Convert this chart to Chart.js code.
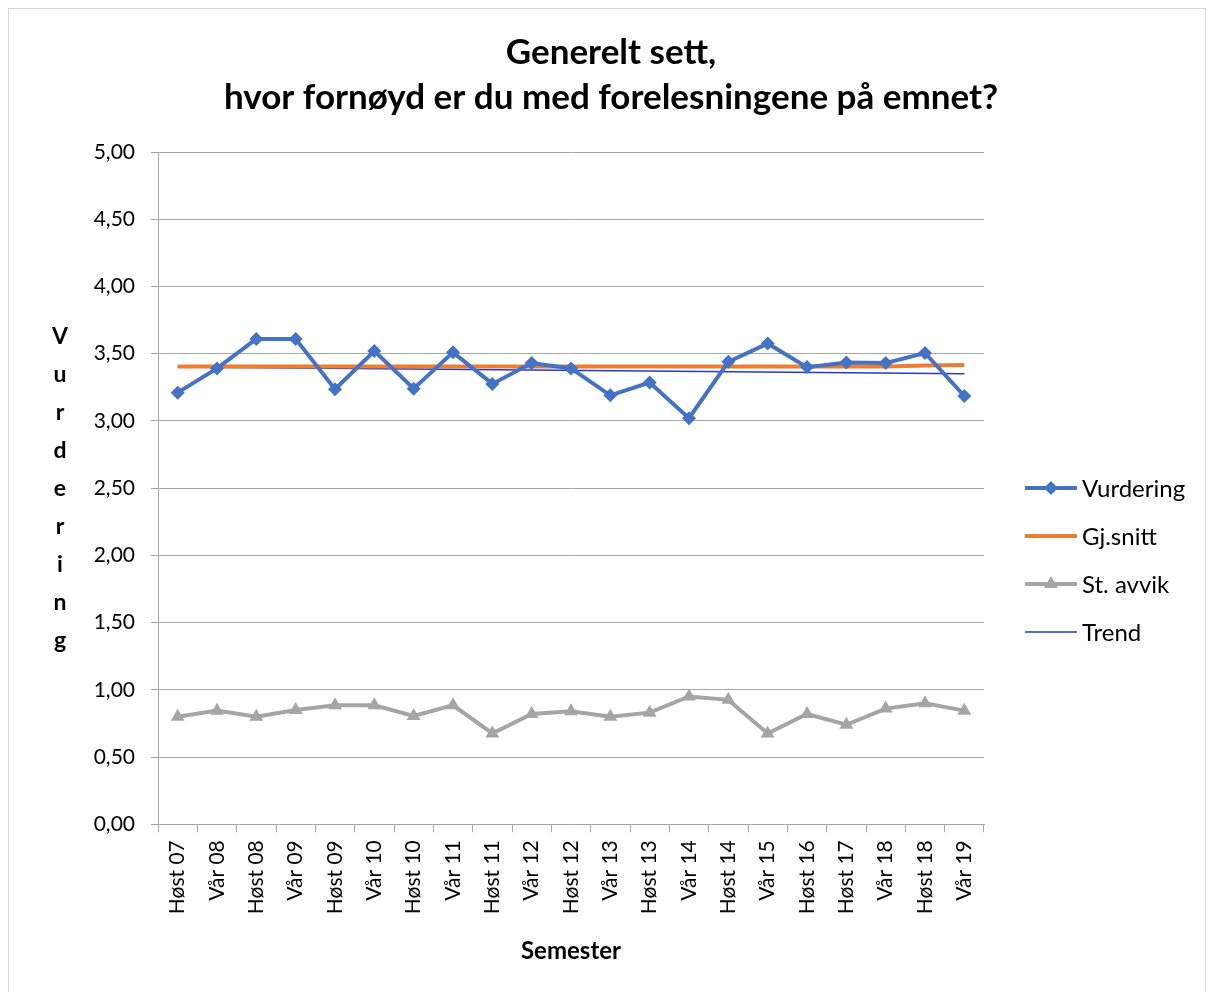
<!DOCTYPE html>
<html>
<head>
<meta charset="utf-8">
<script src="https://cdn.jsdelivr.net/npm/chart.js@4.4.0/dist/chart.umd.min.js"></script>
<style>
  html, body { margin: 0; padding: 0; background: #fff; }
  #wrap { position: absolute; left: 0; top: 0; width: 1213px; height: 992px; }
  #frame { position: absolute; left: 8px; top: 8px; width: 1196px; height: 1000px;
           border: 1px solid #d9d9d9; pointer-events: none; }
</style>
</head>
<body>
<div id="wrap"><canvas id="chart" width="1213" height="992"></canvas></div>
<div id="frame"></div>
<script>
/* Data */
const semesters = ['Høst 07','Vår 08','Høst 08','Vår 09','Høst 09','Vår 10','Høst 10','Vår 11',
  'Høst 11','Vår 12','Høst 12','Vår 13','Høst 13','Vår 14','Høst 14','Vår 15','Høst 16',
  'Høst 17','Vår 18','Høst 18','Vår 19'];
const vurdering = [3.21, 3.39, 3.61, 3.61, 3.235, 3.52, 3.24, 3.51, 3.275, 3.43, 3.39,
  3.19, 3.285, 3.02, 3.44, 3.575, 3.40, 3.435, 3.43, 3.505, 3.185];
const gjSnitt = [3.405, 3.405, 3.405, 3.405, 3.405, 3.405, 3.405, 3.405, 3.405, 3.405, 3.405,
  3.405, 3.405, 3.405, 3.405, 3.405, 3.405, 3.405, 3.405, 3.412, 3.415];
const stAvvik = [0.80, 0.845, 0.80, 0.85, 0.885, 0.885, 0.805, 0.885, 0.675, 0.82, 0.84,
  0.80, 0.83, 0.95, 0.925, 0.675, 0.82, 0.74, 0.86, 0.90, 0.845];
const trend = [3.40, null, null, null, null, null, null, null, null, null, null,
  null, null, null, null, null, null, null, null, null, 3.35];
const titleLines = ['Generelt sett,', 'hvor fornøyd er du med forelesningene på emnet?'];
const yTitle = 'Vurdering';

const FONT = 'Lato, "Open Sans", sans-serif';

/* title centred on the page, y title as stacked letters, legend on the right */
const sidePlugin = {
  id: 'side',
  afterDraw(chart) {
    const { ctx, chartArea: a } = chart;
    const mid = (a.top + a.bottom) / 2;
    ctx.save();
    ctx.fillStyle = '#000';
    ctx.textAlign = 'center';
    ctx.textBaseline = 'middle';

    ctx.font = `bold 35px ${FONT}`;
    titleLines.forEach((t, i) => ctx.fillText(t, 611, 53 + i * 45));

    ctx.font = `bold 23px ${FONT}`;
    const letters = yTitle.split('');
    const step = 38;
    const y0 = mid - step * (letters.length - 1) / 2;
    letters.forEach((ch, i) => ctx.fillText(ch, 60, y0 + i * step));

    // legend
    ctx.font = `24px ${FONT}`;
    ctx.textAlign = 'left';
    chart.data.datasets.forEach((ds, i) => {
      const y = mid + i * 48;
      ctx.strokeStyle = ds.borderColor;
      ctx.lineWidth = ds.borderWidth;
      ctx.beginPath();
      ctx.moveTo(1025, y);
      ctx.lineTo(1077, y);
      ctx.stroke();
      if (ds.pointRadius > 0) {
        ctx.fillStyle = ds.pointBackgroundColor;
        Chart.helpers.drawPoint(ctx, {
          pointStyle: ds.pointStyle, radius: ds.pointRadius, borderWidth: 0
        }, 1051, y);
      }
      ctx.fillStyle = '#000';
      ctx.fillText(ds.label, 1082, y + 1);
    });
    ctx.restore();
  }
};

new Chart(document.getElementById('chart'), {
  type: 'line',
  data: {
    labels: semesters,
    datasets: [
      { label: 'Vurdering', data: vurdering, borderColor: '#4472C4', borderWidth: 4,
        pointStyle: 'rectRot', pointRadius: 7, pointBackgroundColor: '#4472C4',
        pointBorderColor: '#4472C4', pointBorderWidth: 0, tension: 0 },
      { label: 'Gj.snitt', data: gjSnitt, borderColor: '#ED7D31', borderWidth: 4,
        pointRadius: 0, tension: 0 },
      { label: 'St. avvik', data: stAvvik, borderColor: '#A5A5A5', borderWidth: 4,
        pointStyle: 'triangle', pointRadius: 8, pointBackgroundColor: '#A5A5A5',
        pointBorderColor: '#A5A5A5', pointBorderWidth: 0, tension: 0 },
      { label: 'Trend', data: trend, borderColor: '#1F3BD1', borderWidth: 1.5,
        pointRadius: 0, spanGaps: true, tension: 0 }
    ]
  },
  options: {
    responsive: false,
    animation: false,
    layout: { padding: { top: 152, right: 229, bottom: 22, left: 0 } },
    plugins: {
      legend: { display: false },
      tooltip: { enabled: false },
      title: { display: false }
    },
    scales: {
      x: {
        offset: true,
        grid: { offset: true, drawOnChartArea: false, color: '#a6a6a6', tickLength: 8 },
        border: { color: '#a6a6a6' },
        ticks: { color: '#000', font: { family: FONT, size: 21 }, maxRotation: 90, minRotation: 90,
                 autoSkip: false, padding: 8 },
        title: { display: true, text: 'Semester', color: '#000',
                 font: { family: FONT, size: 24, weight: 'bold' }, padding: { top: 15 } }
      },
      y: {
        min: 0, max: 5,
        afterFit(scale) { scale.width = 158; },
        grid: { color: '#a6a6a6', tickLength: 7 },
        border: { color: '#a6a6a6' },
        ticks: { stepSize: 0.5, color: '#000', font: { family: FONT, size: 21 }, padding: 16,
                 callback: v => v.toFixed(2).replace('.', ',') }
      }
    }
  },
  plugins: [sidePlugin]
});
</script>
</body>
</html>
